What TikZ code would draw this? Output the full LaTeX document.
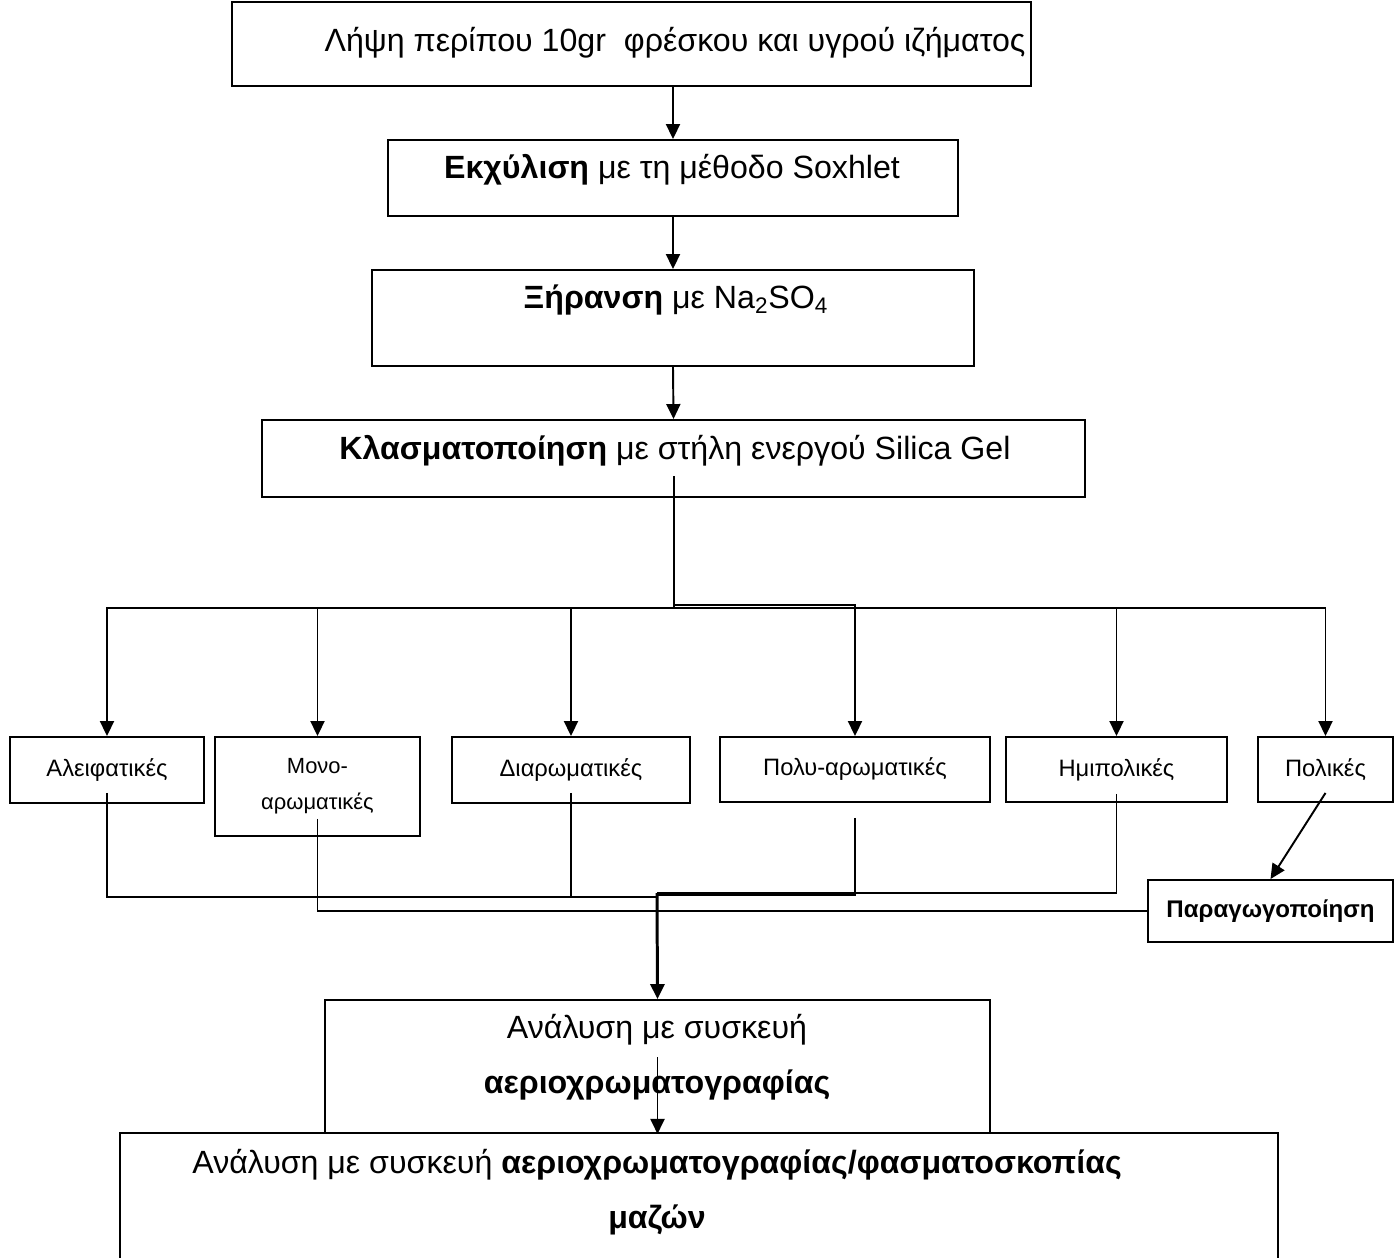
\documentclass[tikz,border=0pt]{standalone}
\usepackage{fontspec}
\setmainfont{Liberation Sans}
\usetikzlibrary{arrows.meta}

\tikzset{
  box/.style={draw, rectangle, line width=1.1pt, inner sep=0pt},
  bigtext/.style={font=\fontsize{18.3}{31.2}\selectfont, inner sep=0pt},
  rowtext/.style={font=\fontsize{13.5}{20.4}\selectfont},
  heavy/.style={line width=1.7pt},
}

\begin{document}
\begin{tikzpicture}[x=0.02cm, y=-0.02cm, line width=1.1pt,
    >={Triangle[width=0.28cm,length=0.3cm]}]
	\useasboundingbox (0,0) rectangle (1394,1258);
	% main steps
	\node (take) [box, minimum width=15.98cm, minimum height=1.68cm] at (631.5,44) {};
	\node (takeT) [bigtext] at (675,43) {Λήψη περίπου 10gr\ \ φρέσκου και υγρού ιζήματος};
	\node (extr) [box, minimum width=11.40cm, minimum height=1.52cm] at (673,178) {};
	\node (extrT) [bigtext] at (672,170) {\textbf{Εκχύλιση} με τη μέθοδο Soxhlet};
	\node (dry) [box, minimum width=12.04cm, minimum height=1.92cm] at (673,318) {};
	\node (dryT) [bigtext] at (676,300) {\textbf{Ξήρανση} με Na\textsubscript{2}SO\textsubscript{4}};
	\node (frac) [box, minimum width=16.46cm, minimum height=1.54cm] at (673.5,458.5) {};
	\node (fracT) [bigtext] at (675,451) {\textbf{Κλασματοποίηση} με στήλη ενεργού Silica Gel};
	% fractions
	\node (aliph) [box, rowtext, minimum width=3.88cm, minimum height=1.32cm] at (107,770) {Αλειφατικές};
	\node (mono) [box, font=\fontsize{12.5}{20.4}\selectfont, align=center, minimum width=4.10cm, minimum height=1.98cm] at (317.5,786.5) {Μονο-\\αρωματικές};
	\node (diar) [box, rowtext, minimum width=4.76cm, minimum height=1.32cm] at (571,770) {Διαρωματικές};
	\node (poly) [box, rowtext, minimum width=5.40cm, minimum height=1.30cm] at (855,769.5) {Πολυ-αρωματικές};
	\node (semi) [box, rowtext, minimum width=4.42cm, minimum height=1.30cm] at (1116.5,769.5) {Ημιπολικές};
	\node (polar) [box, rowtext, minimum width=2.70cm, minimum height=1.30cm] at (1325.5,769.5) {Πολικές};
	\node (deriv) [box, font=\fontsize{13.7}{20}\selectfont\bfseries, minimum width=4.90cm, minimum height=1.24cm] at (1270.5,911) {Παραγωγοποίηση};
	% analysis
	\node (gc) [box, minimum width=13.30cm, minimum height=2.66cm] at (657.5,1066.5) {};
	\node (gcT) [bigtext, align=center] at (657,1057) {Ανάλυση με συσκευή\\\textbf{αεριοχρωματογραφίας}};
	\node (gcms) [box, minimum width=23.16cm, minimum height=3.14cm] at (699,1211.5) {};
	\node (gcmsT) [bigtext, align=center] at (657,1192) {Ανάλυση με συσκευή \textbf{αεριοχρωματογραφίας/φασματοσκοπίας}\\\textbf{μαζών}};

	\draw [->] (take.south -| extr) -- (extr.north);
	\draw [->] (extr.south) -- (dry.north);
	\draw [->] (dry.south) -- (frac.north);
	% split into fractions
	\coordinate (fracout) at (674,476);
	\coordinate (split) at (674,608);
	\coordinate (split2) at (674,605);
	\draw [heavy] (fracout) -- (split);
	\foreach \f in {aliph,mono,diar,semi,polar}
		\draw [->] (split) -| (\f.north);
	\draw [->] (split2) -| (poly.north);
	% collect fractions
	\coordinate (joinL) at (657,897);
	\coordinate (joinM) at (657,895);
	\coordinate (joinR) at (657,893);
	\draw ([yshift=0.22cm]aliph.south) |- (joinL);
	\draw ([yshift=0.22cm]diar.south) -- (diar.south |- joinL);
	\draw ([yshift=0.36cm]mono.south) |- (deriv.west);
	\draw ([yshift=-0.30cm]poly.south) |- (joinM);
	\draw ([yshift=0.18cm]semi.south) |- (joinR);
	\draw [->] ([yshift=0.2cm]polar.south) -- (deriv.north);
	\draw [heavy, ->] (joinR) -- (gc.north);
	\draw [->] ([yshift=0.19cm]gc.center) -- (gc.south);
\end{tikzpicture}
\end{document}
